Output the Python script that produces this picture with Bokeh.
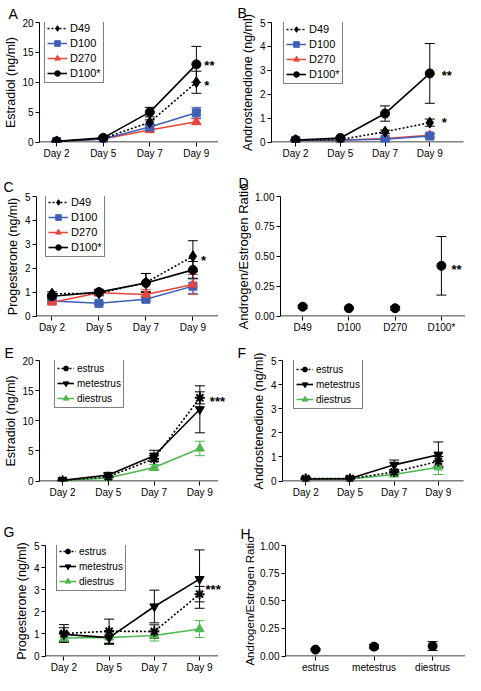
from bokeh.plotting import figure
from bokeh.layouts import column, row
from bokeh.models import (ColumnDataSource, Whisker, TeeHead, FixedTicker, Legend,
                          LegendItem, Label, NumeralTickFormatter, Title)
from bokeh.embed import file_html
from bokeh.resources import INLINE

# ---------------- data ----------------
days = ["Day 2", "Day 5", "Day 7", "Day 9"]
age_groups = ["D49", "D100", "D270", "D100*"]
cycle_stages = ["estrus", "metestrus", "diestrus"]

# A  Estradiol by age
e2_D49 = [0.1, 0.6, 3.3, 10.0]
e2_D49_err = [0.05, 0.1, 0.4, 1.85]
e2_D100 = [0.1, 0.5, 2.5, 4.9]
e2_D100_err = [0.05, 0.1, 0.3, 0.9]
e2_D270 = [0.1, 0.5, 2.0, 3.4]
e2_D270_err = [0.05, 0.1, 0.3, 0.5]
e2_D100s = [0.1, 0.7, 5.0, 13.0]
e2_D100s_err = [0.05, 0.1, 0.8, 3.0]

# B  Androstenedione by age
a4_D49 = [0.08, 0.10, 0.43, 0.81]
a4_D49_err = [0.02, 0.02, 0.07, 0.15]
a4_D100 = [0.07, 0.08, 0.12, 0.25]
a4_D100_err = [0.02, 0.02, 0.04, 0.06]
a4_D270 = [0.07, 0.07, 0.15, 0.28]
a4_D270_err = [0.02, 0.02, 0.05, 0.08]
a4_D100s = [0.08, 0.17, 1.19, 2.87]
a4_D100s_err = [0.02, 0.03, 0.32, 1.25]

# C  Progesterone by age
p4_D49 = [0.93, 0.95, 1.40, 2.50]
p4_D49_err = [0.08, 0.10, 0.38, 0.65]
p4_D100 = [0.63, 0.53, 0.70, 1.25]
p4_D100_err = [0.05, 0.05, 0.08, 0.30]
p4_D270 = [0.57, 0.97, 0.90, 1.32]
p4_D270_err = [0.06, 0.12, 0.20, 0.42]
p4_D100s = [0.83, 1.00, 1.38, 1.93]
p4_D100s_err = [0.08, 0.12, 0.40, 0.35]

# D  Androgen/Estrogen ratio by age
ratio_age = [0.078, 0.065, 0.065, 0.42]
ratio_age_err = [0.012, 0.008, 0.015, 0.245]

# E  Estradiol by cycle stage
e2_estrus = [0.1, 0.7, 3.7, 13.8]
e2_estrus_err = [0.05, 0.15, 0.5, 1.0]
e2_metestrus = [0.1, 1.0, 4.2, 11.9]
e2_metestrus_err = [0.05, 0.2, 0.9, 3.9]
e2_diestrus = [0.05, 0.5, 2.25, 5.4]
e2_diestrus_err = [0.03, 0.15, 0.5, 1.2]

# F  Androstenedione by cycle stage
a4_estrus = [0.10, 0.10, 0.37, 0.82]
a4_estrus_err = [0.02, 0.02, 0.08, 0.20]
a4_metestrus = [0.08, 0.10, 0.67, 1.09]
a4_metestrus_err = [0.02, 0.02, 0.20, 0.53]
a4_diestrus = [0.08, 0.08, 0.27, 0.57]
a4_diestrus_err = [0.02, 0.02, 0.08, 0.30]

# G  Progesterone by cycle stage
p4_estrus = [1.02, 1.12, 1.11, 2.80]
p4_estrus_err = [0.40, 0.55, 0.30, 0.35]
p4_metestrus = [0.98, 0.83, 2.24, 3.48]
p4_metestrus_err = [0.30, 0.30, 0.74, 1.32]
p4_diestrus = [0.81, 0.84, 0.93, 1.22]
p4_diestrus_err = [0.20, 0.25, 0.25, 0.38]

# H  Androgen/Estrogen ratio by cycle stage
ratio_stage = [0.058, 0.085, 0.09]
ratio_stage_err = [0.01, 0.02, 0.04]

# significance marks (text, y value) placed next to the last category
sig_A_text = ["**", "*"]
sig_A_y = [13.4, 10.2]
sig_B_text = ["**", "*"]
sig_B_y = [2.95, 1.0]
sig_C_text = ["*"]
sig_C_y = [2.5]
sig_D_text = ["**"]
sig_D_y = [0.425]
sig_E_text = ["***"]
sig_E_y = [13.9]
sig_G_text = ["***"]
sig_G_y = [3.2]

# ---------------- styles / layout ----------------
FONT = "Liberation Sans"
BLUE = "#3f5fb4"
RED = "#e8453c"
GREEN = "#4cb84f"

AGE_STYLE = {
    "D49": dict(color="black", dash="2 2", marker="diamond", size=11, lw=1.6),
    "D100": dict(color=BLUE, dash="solid", marker="square", size=8, lw=1.5),
    "D270": dict(color=RED, dash="solid", marker="triangle", size=9, lw=1.5),
    "D100*": dict(color="black", dash="solid", marker="circle", size=9, lw=1.6),
}
STAGE_STYLE = {
    "estrus": dict(color="black", dash="2 2", marker="asterisk", size=10, lw=1.6),
    "metestrus": dict(color="black", dash="solid", marker="inverted_triangle", size=9, lw=1.6),
    "diestrus": dict(color=GREEN, dash="solid", marker="triangle", size=9, lw=1.5),
}

SX = 465 / 481
SY = 675 / 691
COL_X = [0, 232]
COL_W = [232, 233]
ROW_Y = [0, 161, 337, 500]
ROW_H = [161, 176, 163, 175]


def make_panel(col, rw, frame_ref, axis_r, tick_ref, ymax, yticks, ylabel, ylab_shift,
               letter, letter_ref, xlabels, yfmt=None, ylab_size="12.5px"):
    l, t, r, b = frame_ref
    fl = round(l * SX) - COL_X[col]
    ft = round(t * SY) - ROW_Y[rw]
    fr = round(r * SX) - COL_X[col]
    fb = round(b * SY) - ROW_Y[rw]
    W, H = COL_W[col], ROW_H[rw]
    fh = fb - ft
    n = len(xlabels)
    x0, xn = tick_ref
    sp = (xn - x0) / (n - 1)
    xr = (-(x0 - l) / sp, (n - 1) + (r - xn) / sp)
    x_axis_end = (n - 1) + (axis_r - xn) / sp
    eps = 0.5 * ymax / fh
    p = figure(width=W, height=H, x_range=xr, y_range=(-eps, ymax),
               output_backend="svg", toolbar_location=None,
               min_border_left=fl, min_border_right=max(W - fr, 0),
               min_border_top=ft, min_border_bottom=H - fb)
    p.outline_line_color = None
    p.xgrid.visible = False
    p.ygrid.visible = False
    p.background_fill_color = "white"
    p.border_fill_color = "white"
    for ax in (p.xaxis[0], p.yaxis[0]):
        ax.axis_line_color = "black"
        ax.axis_line_width = 1
        ax.major_tick_line_color = "black"
        ax.major_tick_out = 4
        ax.major_tick_in = 0
        ax.minor_tick_line_color = None
        ax.major_label_text_font = FONT
        ax.major_label_text_font_size = "10px"
        ax.major_label_text_color = "black"
    # x axis line drawn only up to where the reference axis ends
    p.xaxis.axis_line_color = None
    p.segment(x0=[xr[0]], y0=[0], x1=[x_axis_end], y1=[0], line_color="black",
              line_width=1)
    p.xaxis.ticker = FixedTicker(ticks=list(range(n)), minor_ticks=[])
    p.xaxis.major_label_overrides = {i: lab for i, lab in enumerate(xlabels)}
    p.xaxis.major_label_standoff = 1
    p.yaxis.ticker = FixedTicker(ticks=yticks, minor_ticks=[])
    if yfmt:
        p.yaxis.formatter = NumeralTickFormatter(format=yfmt)
    p.yaxis.major_label_standoff = 2
    p.add_layout(Title(text=ylabel, align="center", offset=round(ylab_shift * SY),
                       text_font=FONT, text_font_size=ylab_size,
                       text_font_style="normal", text_color="black", standoff=3),
                 "left")
    # panel letter as a left-aligned title shifted to the left of the frame
    base_my = letter_ref[1] * SY - ROW_Y[rw]
    p.title.text = letter
    p.title.align = "left"
    p.title.text_font = FONT
    p.title.text_font_size = "14px"
    p.title.text_font_style = "normal"
    p.title.text_color = "black"
    p.title.offset = round(letter_ref[0] * SX) - COL_X[col] - fl
    p.title.standoff = max(0, round(ft - base_my - 3))
    return p, fh


def add_series(p, ys, errs, st, with_line=True):
    xs = list(range(len(ys)))
    src = ColumnDataSource(dict(x=xs, y=ys,
                                upper=[v + e for v, e in zip(ys, errs)],
                                lower=[v - e for v, e in zip(ys, errs)]))
    c = st["color"]
    p.add_layout(Whisker(source=src, base="x", upper="upper", lower="lower",
                         line_color=c, line_width=1,
                         upper_head=TeeHead(size=10, line_color=c, line_width=1),
                         lower_head=TeeHead(size=10, line_color=c, line_width=1)))
    rends = []
    if with_line:
        rends.append(p.line("x", "y", source=src, line_color=c, line_width=st["lw"],
                            line_dash=st["dash"]))
    rends.append(p.scatter("x", "y", source=src, marker=st["marker"], size=st["size"],
                           fill_color=c, line_color=c,
                           line_width=2 if st["marker"] == "asterisk" else 1))
    return rends


def add_legend(p, fh, items, dx_ref, dy_ref, fsize, gw):
    n = len(items)
    pad, lh, sp = 2, 14, 1
    h = 2 * pad + n * lh + (n - 1) * sp
    x = round(dx_ref * SX)
    y = fh - max(1, round(dy_ref * SY)) - h
    leg = Legend(items=items, location=(x, y), padding=pad, spacing=sp, margin=0,
                 label_height=lh, glyph_height=lh, glyph_width=gw, label_standoff=3,
                 label_text_font=FONT, label_text_font_size=fsize,
                 label_text_color="black",
                 border_line_color="black", border_line_width=1,
                 background_fill_color="white", background_fill_alpha=1)
    p.add_layout(leg)


def add_sig(p, xidx, ys, texts, xoff):
    for yv, t in zip(ys, texts):
        p.add_layout(Label(x=xidx, y=yv, text=t, x_offset=xoff, y_offset=-4,
                           text_font=FONT, text_font_size="13px",
                           text_font_style="bold", text_baseline="middle",
                           text_align="left", text_color="black"))


# ---------------- panels ----------------
# A
pA, hA = make_panel(0, 0, (37, 19, 240, 145), 225, (55, 202), 20, [0, 5, 10, 15, 20],
                    "Estradiol (ng/ml)", -7, "A", (5, 14), days)
rA = {}
rA["D270"] = add_series(pA, e2_D270, e2_D270_err, AGE_STYLE["D270"])
rA["D100"] = add_series(pA, e2_D100, e2_D100_err, AGE_STYLE["D100"])
rA["D49"] = add_series(pA, e2_D49, e2_D49_err, AGE_STYLE["D49"])
rA["D100*"] = add_series(pA, e2_D100s, e2_D100s_err, AGE_STYLE["D100*"])
add_legend(pA, hA, [LegendItem(label=g, renderers=rA[g]) for g in age_groups], 5, 0,
           "11px", 20)
add_sig(pA, 3, sig_A_y, sig_A_text, 8)

# B
pB, hB = make_panel(1, 0, (280, 21, 481, 146), 479, (305, 444), 5, [0, 1, 2, 3, 4, 5],
                    "Androstenedione (ng/ml)", 5, "B", (245, 14), days)
rB = {}
rB["D270"] = add_series(pB, a4_D270, a4_D270_err, AGE_STYLE["D270"])
rB["D100"] = add_series(pB, a4_D100, a4_D100_err, AGE_STYLE["D100"])
rB["D49"] = add_series(pB, a4_D49, a4_D49_err, AGE_STYLE["D49"])
rB["D100*"] = add_series(pB, a4_D100s, a4_D100s_err, AGE_STYLE["D100*"])
add_legend(pB, hB, [LegendItem(label=g, renderers=rB[g]) for g in age_groups], 12, 0,
           "11px", 20)
add_sig(pB, 3, sig_B_y, sig_B_text, 12)

# C
pC, hC = make_panel(0, 1, (37, 194, 240, 323), 225, (53, 199), 5, [0, 1, 2, 3, 4, 5],
                    "Progesterone (ng/ml)", 6, "C", (3, 187), days)
rC = {}
rC["D100"] = add_series(pC, p4_D100, p4_D100_err, AGE_STYLE["D100"])
rC["D270"] = add_series(pC, p4_D270, p4_D270_err, AGE_STYLE["D270"])
rC["D100*"] = add_series(pC, p4_D100s, p4_D100s_err, AGE_STYLE["D100*"])
rC["D49"] = add_series(pC, p4_D49, p4_D49_err, AGE_STYLE["D49"])
add_legend(pC, hC, [LegendItem(label=g, renderers=rC[g]) for g in age_groups], 9, 4,
           "11px", 20)
add_sig(pC, 3, sig_C_y, sig_C_text, 8)

# D
pD, hD = make_panel(1, 1, (289, 201, 481, 328), 481, (312, 456), 1.0,
                    [0, 0.25, 0.5, 0.75, 1.0], "Androgen/Estrogen Ratio", 19,
                    "D", (245, 185), age_groups, yfmt="0.00", ylab_size="13px")
add_series(pD, ratio_age, ratio_age_err,
           dict(color="black", dash="solid", marker="circle", size=9, lw=1),
           with_line=False)
add_sig(pD, 3, sig_D_y, sig_D_text, 10)

# E
pE, hE = make_panel(0, 2, (39, 369, 240, 493), 225, (63, 206), 20, [0, 5, 10, 15, 20],
                    "Estradiol (ng/ml)", -5, "E", (3, 368), days)
rE = {}
rE["diestrus"] = add_series(pE, e2_diestrus, e2_diestrus_err, STAGE_STYLE["diestrus"])
rE["estrus"] = add_series(pE, e2_estrus, e2_estrus_err, STAGE_STYLE["estrus"])
rE["metestrus"] = add_series(pE, e2_metestrus, e2_metestrus_err, STAGE_STYLE["metestrus"])
add_legend(pE, hE, [LegendItem(label=s, renderers=rE[s]) for s in cycle_stages], 16, 0,
           "10px", 17)
add_sig(pE, 3, sig_E_y, sig_E_text, 10)

# F
pF, hF = make_panel(1, 2, (292, 369, 481, 492), 479, (316, 453), 5, [0, 1, 2, 3, 4, 5],
                    "Androstenedione (ng/ml)", 10, "F", (245, 369), days)
rF = {}
rF["diestrus"] = add_series(pF, a4_diestrus, a4_diestrus_err, STAGE_STYLE["diestrus"])
rF["estrus"] = add_series(pF, a4_estrus, a4_estrus_err, STAGE_STYLE["estrus"])
rF["metestrus"] = add_series(pF, a4_metestrus, a4_metestrus_err, STAGE_STYLE["metestrus"])
add_legend(pF, hF, [LegendItem(label=s, renderers=rF[s]) for s in cycle_stages], 11, 0,
           "10px", 17)

# G
pG, hG = make_panel(0, 3, (47, 558, 240, 675), 225, (66, 206), 5, [0, 1, 2, 3, 4, 5],
                    "Progesterone (ng/ml)", 9, "G", (3, 543), days)
rG = {}
rG["diestrus"] = add_series(pG, p4_diestrus, p4_diestrus_err, STAGE_STYLE["diestrus"])
rG["estrus"] = add_series(pG, p4_estrus, p4_estrus_err, STAGE_STYLE["estrus"])
rG["metestrus"] = add_series(pG, p4_metestrus, p4_metestrus_err, STAGE_STYLE["metestrus"])
add_legend(pG, hG, [LegendItem(label=s, renderers=rG[s]) for s in cycle_stages], 11, 0,
           "10px", 17)
add_sig(pG, 3, sig_G_y, sig_G_text, 6)

# H
pH, hH = make_panel(1, 3, (295, 556, 481, 675), 481, (326, 447), 1.0,
                    [0, 0.25, 0.5, 0.75, 1.0], "Androgen/Estrogen Ratio", 0,
                    "H", (248, 546), cycle_stages, yfmt="0.00", ylab_size="11.5px")
add_series(pH, ratio_stage, ratio_stage_err,
           dict(color="black", dash="solid", marker="circle", size=9, lw=1),
           with_line=False)

layout = column(row(pA, pB), row(pC, pD), row(pE, pF), row(pG, pH), spacing=0)

open("out.html", "w").write(file_html(layout, INLINE))
